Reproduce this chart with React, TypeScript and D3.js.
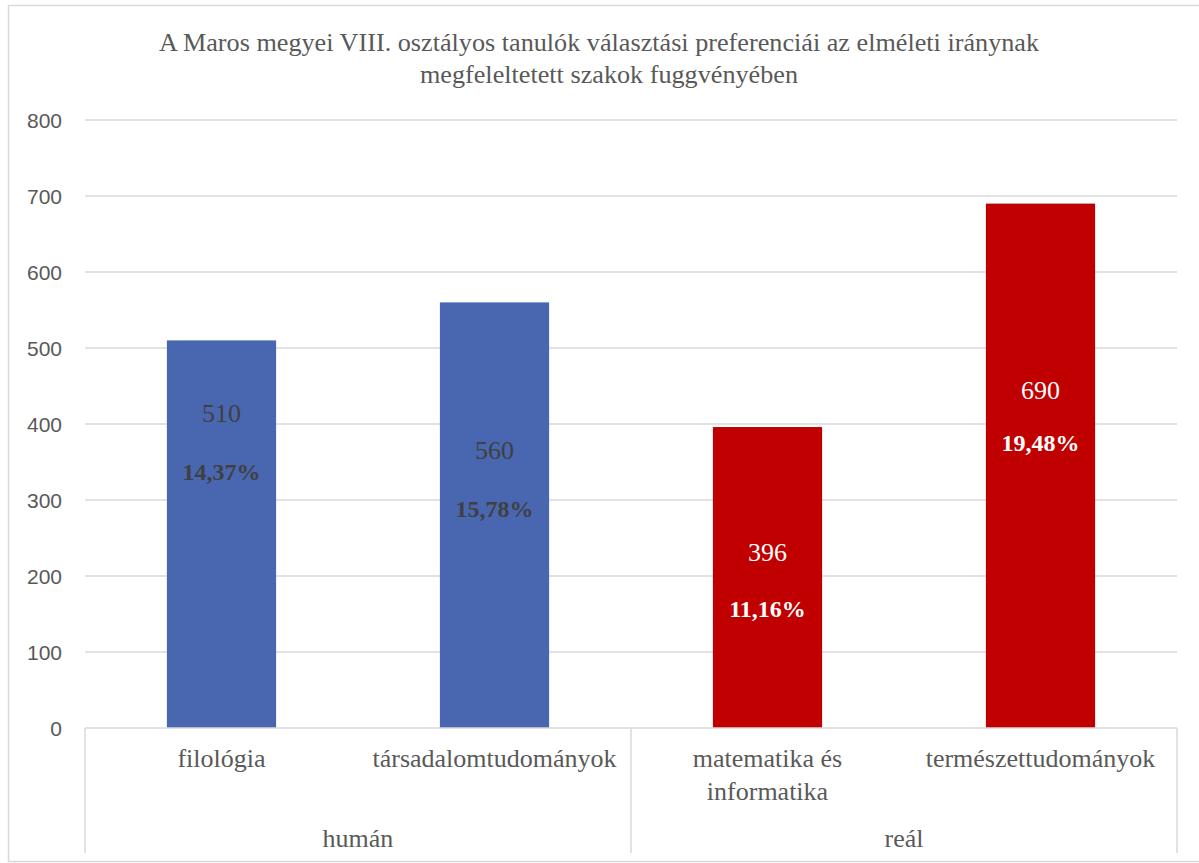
import React from "react";
import * as d3 from "d3";

const titleLines = [
  "A Maros megyei VIII. osztályos tanulók választási preferenciái az elméleti iránynak",
  "megfeleltetett szakok fuggvényében",
];
const categories = ["filológia", "társadalomtudományok", "matematika és|informatika", "természettudományok"];
const groups = ["humán", "humán", "reál", "reál"];
const groupNames = ["humán", "reál"];
const values = [510, 560, 396, 690];
const percents = ["14,37%", "15,78%", "11,16%", "19,48%"];
const yTicks = [0, 100, 200, 300, 400, 500, 600, 700, 800];
// label placement in value units below the bar top
const valueLabelDepth = [107, 206, 176, 257];
const pctLabelDepth = [184, 282, 250, 325];

const W = 1199;
const H = 863;
const left = 85;
const right = 1177;
const top = 120;
const bottom = 728;
const axisBottom = 853;

const BLUE = "#4867B0";
const RED = "#C00000";
const GRID = "#d9d9d9";
const TEXT = "#595959";

export default function App() {
  const x = d3.scaleBand<string>().domain(categories).range([left, right]).paddingInner(0).paddingOuter(0);
  const y = d3.scaleLinear().domain([0, 800]).range([bottom, top]);
  const bw = x.bandwidth() * 0.4;
  const serif = "'Liberation Serif', 'Times New Roman', serif";
  const sans = "'Liberation Sans', Arial, sans-serif";

  const groupExtents = groupNames.map((g) => {
    const idx = groups.map((gg, i) => (gg === g ? i : -1)).filter((i) => i >= 0);
    const x0 = x(categories[idx[0]])!;
    const x1 = x(categories[idx[idx.length - 1]])! + x.bandwidth();
    return { g, x0, x1 };
  });
  const dividers = Array.from(new Set(groupExtents.flatMap((e) => [e.x0, e.x1])));

  return (
    <svg
      width={W}
      height={H}
      style={{ position: "absolute", left: 0, top: 0, background: "#fff" }}
    >
      <rect x={8.5} y={5.5} width={1220} height={856} fill="#fff" stroke={GRID} strokeWidth={1.5} />
      {titleLines.map((t, i) => (
        <text
          key={i}
          x={i === 0 ? 599 : 609}
          y={51 + i * 32}
          textAnchor="middle"
          fontFamily={serif}
          fontSize={26.2}
          fill={TEXT}
        >
          {t}
        </text>
      ))}
      {yTicks.map((t) => (
        <g key={t}>
          {t > 0 && (
            <line x1={left} x2={right} y1={y(t)} y2={y(t)} stroke={GRID} strokeWidth={1.5} />
          )}
          <text x={62} y={y(t) + 7.5} textAnchor="end" fontFamily={sans} fontSize={21} fill={TEXT}>
            {t}
          </text>
        </g>
      ))}
      {categories.map((c, i) => {
        const cx = x(c)! + x.bandwidth() / 2;
        const isRed = groups[i] === "reál";
        const fill = isRed ? RED : BLUE;
        const lblColor = isRed ? "#ffffff" : "#404040";
        return (
          <g key={c}>
            <rect x={cx - bw / 2} y={y(values[i])} width={bw} height={y(0) - y(values[i])} fill={fill} />
            <text
              x={cx}
              y={y(values[i] - valueLabelDepth[i])}
              textAnchor="middle"
              fontFamily={serif}
              fontSize={26}
              fill={lblColor}
            >
              {values[i]}
            </text>
            <text
              x={cx}
              y={y(values[i] - pctLabelDepth[i])}
              textAnchor="middle"
              fontFamily={serif}
              fontSize={24}
              fontWeight="bold"
              fill={lblColor}
            >
              {percents[i]}
            </text>
            {c.split("|").map((ln, k) => (
              <text
                key={k}
                x={cx}
                y={767 + k * 33}
                textAnchor="middle"
                fontFamily={serif}
                fontSize={26}
                fill={TEXT}
              >
                {ln}
              </text>
            ))}
          </g>
        );
      })}
      <line x1={left} x2={right} y1={bottom} y2={bottom} stroke={GRID} strokeWidth={1.5} />
      {dividers.map((d) => (
        <line key={d} x1={d} x2={d} y1={bottom} y2={axisBottom} stroke={GRID} strokeWidth={1.5} />
      ))}
      {groupExtents.map((e) => (
        <text
          key={e.g}
          x={(e.x0 + e.x1) / 2}
          y={847}
          textAnchor="middle"
          fontFamily={serif}
          fontSize={26}
          fill={TEXT}
        >
          {e.g}
        </text>
      ))}
    </svg>
  );
}
